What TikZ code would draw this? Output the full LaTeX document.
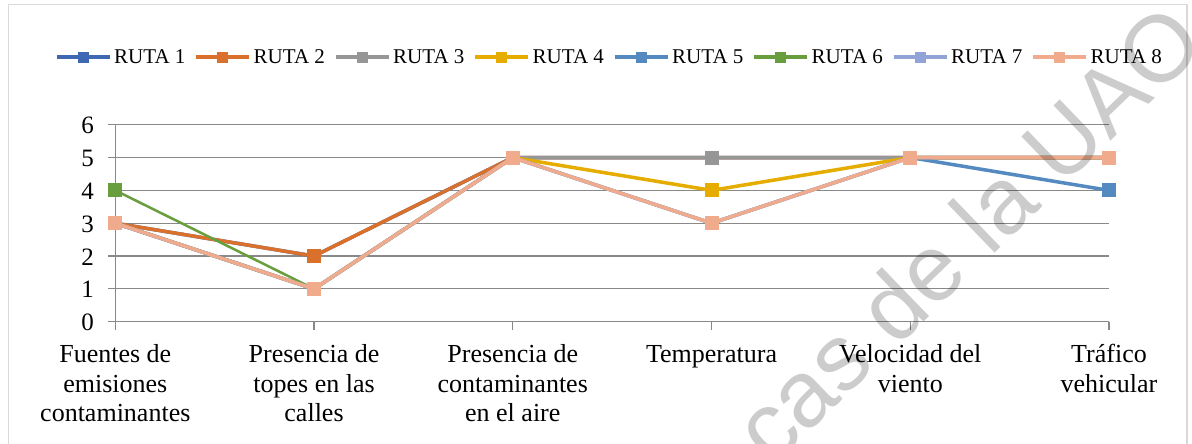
\documentclass[tikz,border=0pt]{standalone}
\usepackage{fontspec}
\setmainfont{Liberation Serif}
\newfontfamily\wmfont{Liberation Sans}
\definecolor{rA}{RGB}{62,104,180}
\definecolor{rB}{RGB}{217,112,44}
\definecolor{rC}{RGB}{150,150,150}
\definecolor{rD}{RGB}{230,172,0}
\definecolor{rE}{RGB}{84,138,192}
\definecolor{rF}{RGB}{104,158,62}
\definecolor{rG}{RGB}{146,163,216}
\definecolor{rH}{RGB}{240,170,140}
\definecolor{gridc}{RGB}{137,137,137}
\definecolor{framec}{RGB}{217,217,217}
\begin{document}
\begin{tikzpicture}[x=1pt,y=-1pt,
  gridline/.style={draw=gridc,line width=1.1pt},
  serie/.style={line width=3.5pt,line join=round},
  sqmark/.style={rectangle,inner sep=0pt,minimum size=14pt,draw=none},
  legmark/.style={rectangle,inner sep=0pt,minimum size=11pt,draw=none},
  legtext/.style={inner sep=0pt,anchor=base west,font=\fontsize{21}{24}\selectfont},
  ylab/.style={inner sep=0pt,anchor=base east,font=\fontsize{25}{28}\selectfont},
  catlab/.style={inner sep=0pt,anchor=base,align=center,font=\fontsize{26}{29.7}\selectfont},
  wm/.style={inner sep=0pt,anchor=base west,text=black,text opacity=0.2,font=\wmfont\fontsize{94}{100}\selectfont}]
\useasboundingbox (0,0) rectangle (1192,444);
\fill[white] (0,0) rectangle (1192,444);
% frame
\draw[framec,line width=1.2pt] (8.7,460) -- (8.7,4.7) -- (1187,4.7) -- (1187,460);
% value axis grid and labels
\foreach \v in {0,...,6}{
  \coordinate (g\v l) at (108.3,{321.7-32.83*\v});
  \coordinate (g\v r) at (1109,{321.7-32.83*\v});
  \draw[gridline] (g\v l) -- (g\v r);
  \node[ylab] (y\v) at (94,{321.7-32.83*\v+9}) {\v};
}
\coordinate (axtop) at (115.3,{321.7-32.83*6});
\coordinate (axbot) at (115.3,330);
\draw[gridline] (axtop) -- (axbot);
% category ticks
\foreach \i in {0,...,5}{
  \coordinate (c\i) at ({115.3+198.74*\i},321.7);
  \coordinate (t\i) at ({115.3+198.74*\i},330);
  \draw[gridline] (c\i) -- (t\i);
}
% category labels (base anchor = baseline of last line)
\node[catlab] (k0) at ({115.3+198.74*0},421.7) {Fuentes de\\emisiones\\contaminantes};
\node[catlab] (k1) at ({115.3+198.74*1},421.7) {Presencia de\\topes en las\\calles};
\node[catlab] (k2) at ({115.3+198.74*2},421.7) {Presencia de\\contaminantes\\en el aire};
\node[catlab] (k3) at ({115.3+198.74*3},362.3) {Temperatura};
\node[catlab] (k4) at ({115.3+198.74*4},392) {Velocidad del\\viento};
\node[catlab] (k5) at ({115.3+198.74*5},392) {Tráfico\\vehicular};
% series
\foreach \s/\col/\lw/\a/\b/\c/\d/\e/\f in {
  1/rA/3.5/3/2/5/5/5/5,
  2/rB/3.5/3/2/5/5/5/5,
  3/rC/3.5/3/1/5/5/5/5,
  4/rD/3.5/3/1/5/4/5/5,
  5/rE/3.5/3/1/5/3/5/4,
  6/rF/2.5/4/1/5/3/5/5,
  7/rG/3.5/3/1/5/3/5/5,
  8/rH/3.5/3/1/5/3/5/5}{
  \coordinate (p\s-0) at ({115.3+198.74*0},{321.7-32.83*\a});
  \coordinate (p\s-1) at ({115.3+198.74*1},{321.7-32.83*\b});
  \coordinate (p\s-2) at ({115.3+198.74*2},{321.7-32.83*\c});
  \coordinate (p\s-3) at ({115.3+198.74*3},{321.7-32.83*\d});
  \coordinate (p\s-4) at ({115.3+198.74*4},{321.7-32.83*\e});
  \coordinate (p\s-5) at ({115.3+198.74*5},{321.7-32.83*\f});
  \draw[serie,draw=\col,line width=\lw pt] (p\s-0) -- (p\s-1) -- (p\s-2) -- (p\s-3) -- (p\s-4) -- (p\s-5);
  \foreach \k in {0,...,5}{
    \node[sqmark,fill=\col] (m\s-\k) at (p\s-\k) {};
  }
}
% legend
\foreach \i/\col in {1/rA,2/rB,3/rC,4/rD,5/rE,6/rF,7/rG,8/rH}{
  \coordinate (la\i) at ({56.5+139.5*(\i-1)},57.3);
  \coordinate (lb\i) at ({56.5+139.5*(\i-1)+53},57.3);
  \draw[draw=\col,line width=4pt] (la\i) -- (lb\i);
  \node[legmark,fill=\col] (lm\i) at ({56.5+139.5*(\i-1)+26.5},57.3) {};
  \node[legtext] (lt\i) at ({56.5+139.5*(\i-1)+57.5},64) {RUTA \i};
}
% watermark
\node[wm,rotate=44] (wmark) at (772,468) {cas de la UAO};
\end{tikzpicture}
\end{document}
